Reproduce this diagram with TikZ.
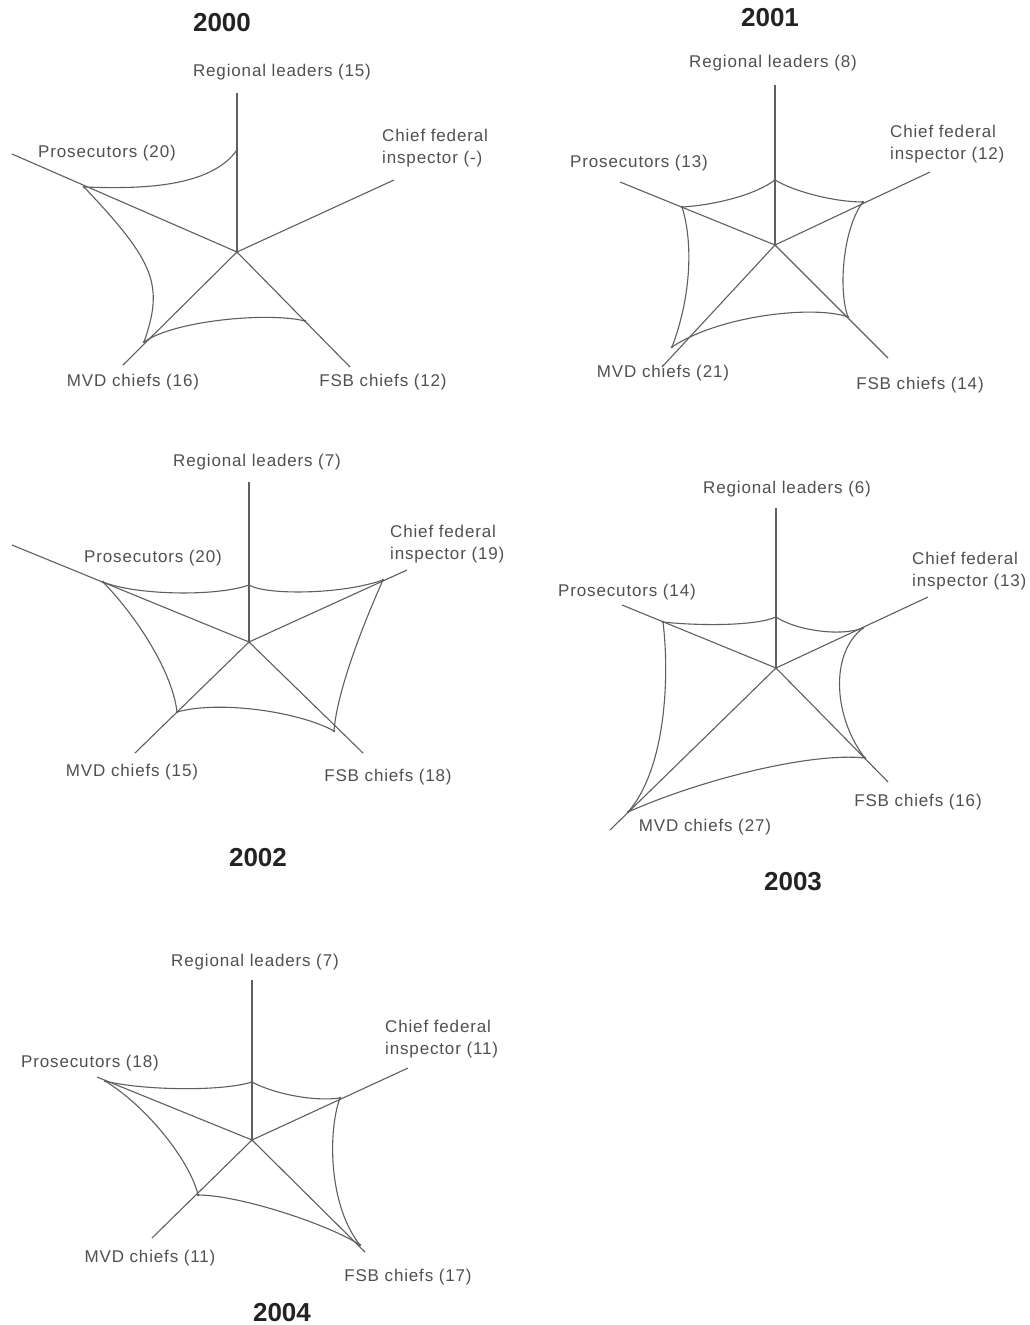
\documentclass[tikz,border=0pt]{standalone}
\usepackage{fontspec}
\setmainfont{Liberation Sans}
\newfontfamily\labfont{Liberation Sans}[LetterSpace=5]
\definecolor{linegray}{RGB}{95,95,95}
\definecolor{textgray}{RGB}{80,80,80}
\definecolor{titleblack}{RGB}{35,35,35}
\tikzset{
  axisline/.style={draw=linegray, line width=1.1pt},
  webline/.style={draw=linegray, line width=1.1pt},
  lab/.style={font=\labfont\fontsize{17}{22}\selectfont, text=textgray, inner sep=0pt},
  twolab/.style={lab, align=left, anchor=west},
  ttl/.style={font=\bfseries\fontsize{26}{30}\selectfont, text=titleblack, inner sep=0pt},
  datapt/.style={fill=linegray}
}
\begin{document}
\begin{tikzpicture}[x=1pt,y=-1pt]
\fill[white] (0,0) rectangle (1030,1325);
\useasboundingbox (0,0) rectangle (1030,1325);

%% ---------------- 2000 ----------------
\coordinate (Ac) at (237,252);
\coordinate (AregE) at (237,93);
\coordinate (AproE) at (12,154);
\coordinate (AchfE) at (394,180);
\coordinate (AfsbE) at (350,367);
\coordinate (AmvdE) at (123,365);
\coordinate (Areg) at (237,150);
\coordinate (Apro) at (84,187);
\coordinate (Afsb) at (305,321);
\coordinate (Amvd) at (144,342);
\foreach \e in {AregE,AproE,AchfE,AfsbE,AmvdE} \draw[axisline] (Ac) -- (\e);
\draw[webline] (Areg) .. controls (210,188) and (140,189) .. (Apro);
\draw[webline] (Apro) .. controls (155,262) and (164,285) .. (Amvd);
\draw[webline] (Amvd) .. controls (175,320) and (270,312) .. (Afsb);
\foreach \p in {Ac,Areg,Apro,Afsb,Amvd} \fill[datapt] (\p) circle (1.3);
\node[ttl] (At) at (222,23) {2000};
\node[lab] (Alreg) at (282,72) {Regional leaders (15)};
\node[lab] (Alpro) at (107,153) {Prosecutors (20)};
\node[twolab] (Alchf) at (382,148) {Chief federal\\inspector (-)};
\node[lab] (Almvd) at (133,382) {MVD chiefs (16)};
\node[lab] (Alfsb) at (383,382) {FSB chiefs (12)};

%% ---------------- 2001 ----------------
\coordinate (Bc) at (775,245);
\coordinate (BregE) at (775,85);
\coordinate (BproE) at (620,182);
\coordinate (BchfE) at (930,172);
\coordinate (BfsbE) at (888,358);
\coordinate (BmvdE) at (662,367);
\coordinate (Breg) at (775,180);
\coordinate (Bpro) at (682,207);
\coordinate (Bchf) at (863,202);
\coordinate (Bfsb) at (848,317);
\coordinate (Bmvd) at (672,347);
\foreach \e in {BregE,BproE,BchfE,BfsbE,BmvdE} \draw[axisline] (Bc) -- (\e);
\draw[webline] (Breg) .. controls (795,192) and (835,202) .. (Bchf);
\draw[webline] (Bchf) .. controls (843,228) and (838,290) .. (Bfsb);
\draw[webline] (Bfsb) .. controls (815,305) and (720,315) .. (Bmvd);
\draw[webline] (Bmvd) .. controls (690,300) and (694,245) .. (Bpro);
\draw[webline] (Bpro) .. controls (715,205) and (755,195) .. (Breg);
\foreach \p in {Bc,Breg,Bpro,Bchf,Bfsb,Bmvd} \fill[datapt] (\p) circle (1.3);
\node[ttl] (Bt) at (770,18) {2001};
\node[lab] (Blreg) at (773,63) {Regional leaders (8)};
\node[twolab] (Blchf) at (890,144) {Chief federal\\inspector (12)};
\node[lab] (Blpro) at (639,163) {Prosecutors (13)};
\node[lab] (Blmvd) at (663,373) {MVD chiefs (21)};
\node[lab] (Blfsb) at (920,385) {FSB chiefs (14)};

%% ---------------- 2002 ----------------
\coordinate (Cc) at (249,642);
\coordinate (CregE) at (249,482);
\coordinate (CproE) at (12,545);
\coordinate (CchfE) at (407,570);
\coordinate (CfsbE) at (363,753);
\coordinate (CmvdE) at (135,753);
\coordinate (Creg) at (249,585);
\coordinate (Cpro) at (103,582);
\coordinate (Cchf) at (383,580);
\coordinate (Cfsb) at (334,731);
\coordinate (Cmvd) at (177,712);
\foreach \e in {CregE,CproE,CchfE,CfsbE,CmvdE} \draw[axisline] (Cc) -- (\e);
\draw[webline] (Cpro) .. controls (135,595) and (215,597) .. (Creg);
\draw[webline] (Creg) .. controls (265,595) and (340,595) .. (Cchf);
\draw[webline] (Cchf) .. controls (365,620) and (337,690) .. (Cfsb);
\draw[webline] (Cfsb) .. controls (300,712) and (220,700) .. (Cmvd);
\draw[webline] (Cmvd) .. controls (173,675) and (140,620) .. (Cpro);
\foreach \p in {Cc,Creg,Cpro,Cchf,Cfsb,Cmvd} \fill[datapt] (\p) circle (1.3);
\node[lab] (Clreg) at (257,462) {Regional leaders (7)};
\node[twolab] (Clchf) at (390,544) {Chief federal\\inspector (19)};
\node[lab] (Clpro) at (153,558) {Prosecutors (20)};
\node[lab] (Clmvd) at (132,772) {MVD chiefs (15)};
\node[lab] (Clfsb) at (388,777) {FSB chiefs (18)};
\node[ttl] (Ct) at (258,858) {2002};

%% ---------------- 2003 ----------------
\coordinate (Dc) at (776,668);
\coordinate (DregE) at (776,508);
\coordinate (DproE) at (622,605);
\coordinate (DchfE) at (928,597);
\coordinate (DfsbE) at (888,782);
\coordinate (DmvdE) at (610,830);
\coordinate (Dreg) at (776,617);
\coordinate (Dpro) at (663,622);
\coordinate (Dchf) at (863,628);
\coordinate (Dfsb) at (865,758);
\coordinate (Dmvd) at (628,812);
\foreach \e in {DregE,DproE,DchfE,DfsbE,DmvdE} \draw[axisline] (Dc) -- (\e);
\draw[webline] (Dpro) .. controls (700,626) and (755,626) .. (Dreg);
\draw[webline] (Dreg) .. controls (795,630) and (840,637) .. (Dchf);
\draw[webline] (Dchf) .. controls (828,655) and (835,720) .. (Dfsb);
\draw[webline] (Dfsb) .. controls (810,752) and (700,780) .. (Dmvd);
\draw[webline] (Dmvd) .. controls (665,770) and (670,680) .. (Dpro);
\foreach \p in {Dc,Dreg,Dpro,Dchf,Dfsb,Dmvd} \fill[datapt] (\p) circle (1.3);
\node[lab] (Dlreg) at (787,489) {Regional leaders (6)};
\node[twolab] (Dlchf) at (912,571) {Chief federal\\inspector (13)};
\node[lab] (Dlpro) at (627,592) {Prosecutors (14)};
\node[lab] (Dlmvd) at (705,827) {MVD chiefs (27)};
\node[lab] (Dlfsb) at (918,802) {FSB chiefs (16)};
\node[ttl] (Dt) at (793,882) {2003};

%% ---------------- 2004 ----------------
\coordinate (Ec) at (252,1140);
\coordinate (EregE) at (252,980);
\coordinate (EproE) at (97,1077);
\coordinate (EchfE) at (408,1068);
\coordinate (EfsbE) at (365,1252);
\coordinate (EmvdE) at (152,1238);
\coordinate (Ereg) at (252,1082);
\coordinate (Epro) at (105,1081);
\coordinate (Echf) at (340,1098);
\coordinate (Efsb) at (360,1245);
\coordinate (Emvd) at (198,1195);
\foreach \e in {EregE,EproE,EchfE,EfsbE,EmvdE} \draw[axisline] (Ec) -- (\e);
\draw[webline] (Epro) .. controls (140,1090) and (220,1092) .. (Ereg);
\draw[webline] (Ereg) .. controls (270,1092) and (310,1102) .. (Echf);
\draw[webline] (Echf) .. controls (328,1130) and (328,1205) .. (Efsb);
\draw[webline] (Efsb) .. controls (330,1225) and (240,1195) .. (Emvd);
\draw[webline] (Emvd) .. controls (190,1160) and (145,1105) .. (Epro);
\foreach \p in {Ec,Ereg,Epro,Echf,Efsb,Emvd} \fill[datapt] (\p) circle (1.3);
\node[lab] (Elreg) at (255,962) {Regional leaders (7)};
\node[twolab] (Elchf) at (385,1039) {Chief federal\\inspector (11)};
\node[lab] (Elpro) at (90,1063) {Prosecutors (18)};
\node[lab] (Elmvd) at (150,1258) {MVD chiefs (11)};
\node[lab] (Elfsb) at (408,1277) {FSB chiefs (17)};
\node[ttl] (Et) at (282,1313) {2004};
\end{tikzpicture}
\end{document}
